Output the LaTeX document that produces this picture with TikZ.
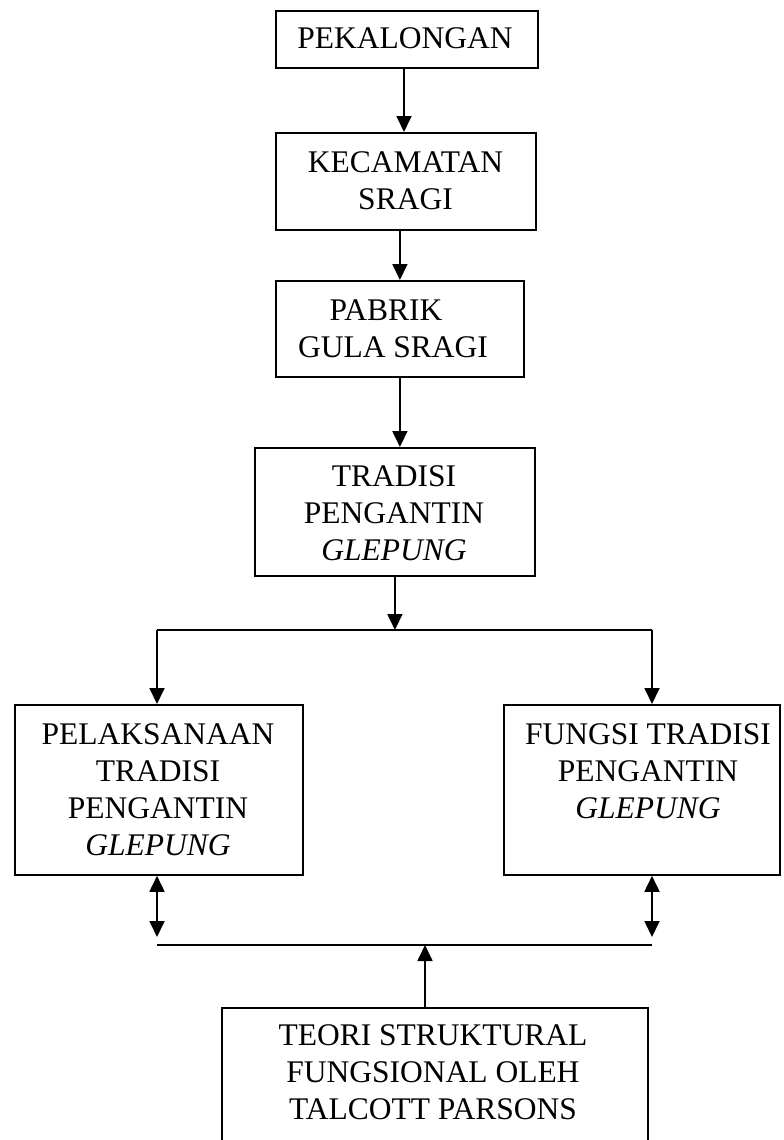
\documentclass[tikz,border=0pt]{standalone}
\usepackage{fontspec}
\setmainfont{Liberation Serif}
\usetikzlibrary{arrows.meta}
\begin{document}
\begin{tikzpicture}[x=1pt,y=-1pt,
  box/.style={draw,line width=1.8pt,inner sep=0pt,anchor=north west},
  lbl/.style={align=center,inner sep=0pt,font=\fontsize{31.5}{37}\selectfont},
  ln/.style={line width=1.8pt},
  arr/.style={line width=1.8pt,-{Triangle[length=16pt,width=15pt]}},
  darr/.style={line width=1.8pt,{Triangle[length=16pt,width=15pt]}-{Triangle[length=16pt,width=15pt]},shorten >=8pt}]
\useasboundingbox (0,0) rectangle (784,1140);
\clip (0,0) rectangle (784,1140);
\fill[white] (0,0) rectangle (784,1140);
% boxes
\node[box,minimum width=262pt,minimum height=57pt] (b1) at (275,10) {};
\node[box,minimum width=260pt,minimum height=97pt] (b2) at (275,132) {};
\node[box,minimum width=248pt,minimum height=96pt] (b3) at (275,280) {};
\node[box,minimum width=280pt,minimum height=128pt] (b4) at (254,447) {};
\node[box,minimum width=288pt,minimum height=170pt] (b5) at (14,704) {};
\node[box,minimum width=276pt,minimum height=170pt] (b6) at (503,704) {};
\node[box,minimum width=426pt,minimum height=153pt] (b7) at (221,1007) {};
% texts
\node[lbl] (t1) at (405,38.5) {PEKALONGAN};
\node[lbl] (t2) at (405.5,180.5) {KECAMATAN\\SRAGI};
\node[lbl] (t3) at (393,329) {PABRIK\hspace*{14pt}\\GULA SRAGI};
\node[lbl] (t4) at (394,513.5) {TRADISI\\PENGANTIN\\\textit{GLEPUNG}};
\node[lbl] (t5) at (158,789.5) {PELAKSANAAN\\TRADISI\\PENGANTIN\\\textit{GLEPUNG}};
\node[lbl] (t6) at (648,771.5) {FUNGSI TRADISI\\PENGANTIN\\\textit{GLEPUNG}};
\node[lbl] (t7) at (433,1072) {TEORI STRUKTURAL\\FUNGSIONAL OLEH\\TALCOTT PARSONS};
% junction coordinates
\coordinate (a1) at (404,67);
\coordinate (jl) at (157,630);
\coordinate (jr) at (652,630);
\coordinate (kl) at (157,945);
\coordinate (kr) at (652,945);
\coordinate (km) at (425,945);
% connectors
\draw[arr] (b1.south -| a1) -- (a1 |- b2.north);
\draw[arr] (b2.south -| b3.north) -- (b3.north);
\draw[arr] (b3.south) -- (b3.south |- b4.north);
\draw[arr] (b4.south) -- (b4.south |- jl);
\draw[ln] (jl) -- (jr);
\draw[arr] (jl) -- (jl |- b5.north);
\draw[arr] (jr) -- (jr |- b6.north);
\draw[ln] (kl) -- (kr);
\draw[darr] (kl |- b5.south) -- (kl);
\draw[darr] (kr |- b6.south) -- (kr);
\draw[arr] (km |- b7.north) -- (km);
\end{tikzpicture}
\end{document}
